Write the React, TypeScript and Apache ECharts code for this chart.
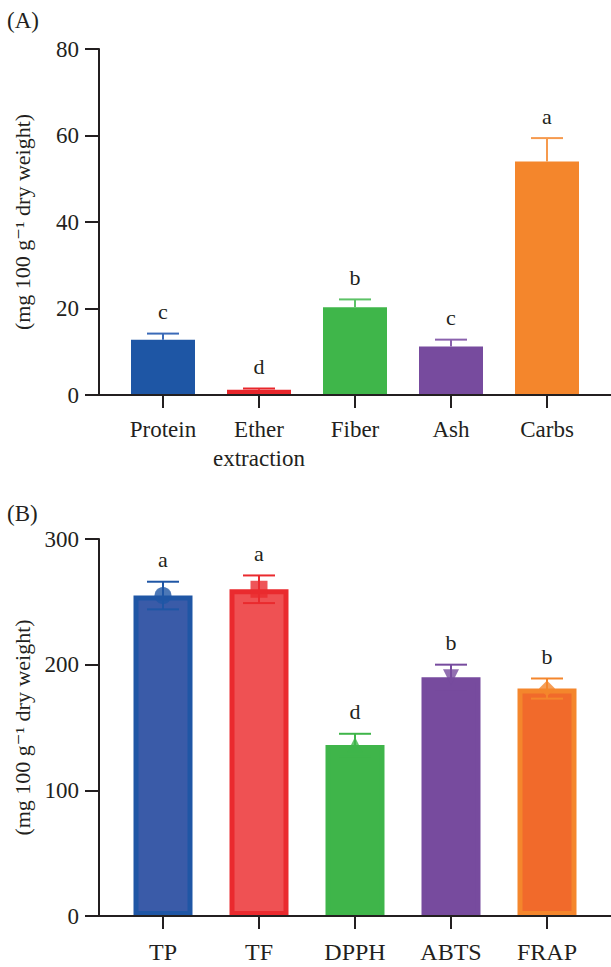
import React, { useEffect, useRef } from "react";
import * as echarts from "echarts";

const catsA = ["Protein", "Ether\nextraction", "Fiber", "Ash", "Carbs"];
const valsA = [12.8, 1.2, 20.3, 11.2, 54.0];
const errA = [1.4, 0.3, 1.8, 1.6, 5.4];
const lettersA = ["c", "d", "b", "c", "a"];
const colorsA = ["#1e56a5", "#e8262b", "#3fb64a", "#774b9e", "#f4862c"];
const errColorsA = ["#3a6ab8", "#e8262b", "#5cc266", "#8a62ad", "#f69a4e"];

const catsB = ["TP", "TF", "DPPH", "ABTS", "FRAP"];
const valsB = [255, 260, 136, 190, 181];
const errB = [11, 11, 9, 10, 8];
const lettersB = ["a", "a", "d", "b", "b"];
const fillB = ["#3a5ba8", "#ef5153", "#3fb54a", "#774b9e", "#f16a2b"];
const borderB = ["#1f56a5", "#ea2a2e", "#3fb54a", "#774b9e", "#f4862c"];
const symbolsB = ["circle", "rect", "triangle", "triangle", "diamond"];
const symbolRotB = [0, 0, 0, 180, 0];
const symbolSizeB = [17, 17, 16, 16, 16];

const FONT = '"Liberation Serif", "DejaVu Serif", serif';
const INK = "#231f20";
const YNAME = "(mg 100 g\u207B\u00B9 dry weight)";

function errSeries(xi: number, yi: number, vals: number[], errs: number[], letters: string[], colors: string[], lower: boolean) {
  return {
    type: "custom",
    xAxisIndex: xi,
    yAxisIndex: yi,
    z: 3,
    data: vals.map((v, i) => [i, v, errs[i]]),
    renderItem: (params: any, api: any) => {
      const i = api.value(0);
      const v = api.value(1);
      const e = api.value(2);
      const top = api.coord([i, v + e]);
      const mid = api.coord([i, v]);
      const bot = api.coord([i, v - e]);
      const c = colors[params.dataIndex];
      const hw = 16;
      const children: any[] = [
        { type: "line", shape: { x1: top[0], y1: top[1], x2: top[0], y2: lower ? bot[1] : mid[1] }, style: { stroke: c, lineWidth: 2 } },
        { type: "line", shape: { x1: top[0] - hw, y1: top[1], x2: top[0] + hw, y2: top[1] }, style: { stroke: c, lineWidth: 2 } },
        {
          type: "text",
          style: { text: letters[params.dataIndex], x: top[0], y: top[1] - 22, align: "center", verticalAlign: "middle", fontSize: 22, fontFamily: FONT, fill: INK },
        },
      ];
      if (lower) {
        children.push({ type: "line", shape: { x1: bot[0] - hw, y1: bot[1], x2: bot[0] + hw, y2: bot[1] }, style: { stroke: c, lineWidth: 2 } });
      }
      return { type: "group", children };
    },
  };
}

function makeX(grid: number, data: string[], size: number, margin: number) {
  return {
    type: "category",
    gridIndex: grid,
    data,
    axisLine: { show: false },
    axisTick: { show: true, alignWithLabel: true, length: 13, lineStyle: { color: INK, width: 2 } },
    axisLabel: { interval: 0, margin, fontSize: size, color: INK, fontFamily: FONT, lineHeight: 29 },
  };
}

function makeY(grid: number, max: number, interval: number) {
  return {
    type: "value",
    gridIndex: grid,
    min: 0,
    max,
    interval,
    offset: 16,
    axisLine: { show: true, lineStyle: { color: INK, width: 2 } },
    axisTick: { show: true, length: 14, lineStyle: { color: INK, width: 2 } },
    axisLabel: { margin: 20, fontSize: 23, color: INK, fontFamily: FONT },
    splitLine: { show: false },
    name: YNAME,
    nameLocation: "middle",
    nameGap: 66,
    nameTextStyle: { fontSize: 22, color: INK, fontFamily: FONT },
  };
}

export default function App() {
  const ref = useRef<HTMLDivElement>(null);
  useEffect(() => {
    document.body.style.margin = "0";
    const chart = echarts.init(ref.current!, null, { renderer: "svg" });
    chart.setOption({
      animation: false,
      backgroundColor: "#ffffff",
      grid: [
        { left: 115, width: 480, top: 49, height: 346 },
        { left: 115, width: 480, top: 539, height: 377 },
      ],
      xAxis: [makeX(0, catsA, 23, 20), makeX(1, catsB, 24, 21)],
      yAxis: [makeY(0, 80, 20), makeY(1, 300, 100)],
      series: [
        {
          type: "bar",
          xAxisIndex: 0,
          yAxisIndex: 0,
          barWidth: 64,
          z: 2,
          data: valsA.map((v, i) => ({ value: v, itemStyle: { color: colorsA[i] } })),
        },
        errSeries(0, 0, valsA, errA, lettersA, errColorsA, false),
        {
          type: "bar",
          xAxisIndex: 1,
          yAxisIndex: 1,
          barWidth: 59,
          z: 2,
          data: valsB.map((v, i) => ({ value: v, itemStyle: { color: fillB[i], borderColor: borderB[i], borderWidth: 5 } })),
        },
        errSeries(1, 1, valsB, errB, lettersB, borderB, true),
        {
          type: "scatter",
          xAxisIndex: 1,
          yAxisIndex: 1,
          z: 4,
          data: valsB.map((v, i) => ({
            value: [i, v],
            symbol: symbolsB[i],
            symbolSize: symbolSizeB[i],
            symbolRotate: symbolRotB[i],
            itemStyle: { color: borderB[i] },
          })),
        },
      ],
    });
    const y0A = chart.convertToPixel({ yAxisIndex: 0 }, 0) as number;
    const y0B = chart.convertToPixel({ yAxisIndex: 1 }, 0) as number;
    chart.setOption({
      graphic: [
        { type: "line", shape: { x1: 98, y1: y0A, x2: 611, y2: y0A }, style: { stroke: INK, lineWidth: 2 }, z: 10 },
        { type: "line", shape: { x1: 98, y1: y0B, x2: 611, y2: y0B }, style: { stroke: INK, lineWidth: 2 }, z: 10 },
        { type: "text", left: 7, top: 9, style: { text: "(A)", fontSize: 23, fontFamily: FONT, fill: INK } },
        { type: "text", left: 7, top: 502, style: { text: "(B)", fontSize: 23, fontFamily: FONT, fill: INK } },
      ],
    });
    return () => chart.dispose();
  }, []);
  return <div ref={ref} style={{ position: "absolute", left: 0, top: 0, width: 611, height: 967 }} />;
}
